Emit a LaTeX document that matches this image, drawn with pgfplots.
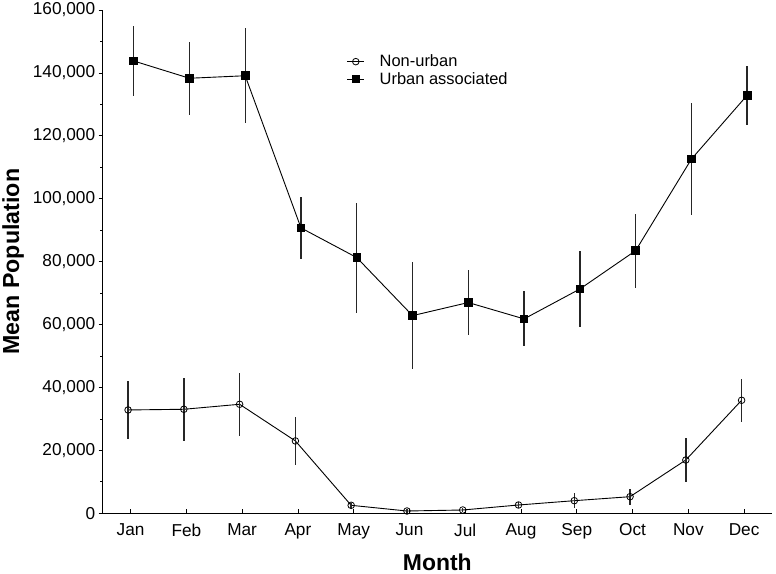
\documentclass[border=0pt]{standalone}
\usepackage{fontspec}
\setmainfont{Liberation Sans}
\usepackage{pgfplots}
\usepackage{pgfplotstable}
\pgfplotsset{compat=1.18}
\pgfplotstableread{
x y e
0.955 32850 9100
1.955 33070 10000
2.955 34660 10000
3.955 23000 7500
4.955 2540 800
5.955 730 500
6.955 1050 600
7.955 2640 1000
8.955 4010 2400
9.955 5280 2550
10.955 16950 6900
11.955 35930 6800
}\nonurban
\pgfplotstableread{
x y e
1.055 143800 11000
2.055 138300 11600
3.055 139100 15100
4.055 90730 9800
5.055 81300 17500
6.055 62840 17000
7.055 67000 10200
8.055 61800 8750
9.055 71300 12000
10.055 83500 11750
11.055 112600 17750
12.055 132900 9450
}\urban
\begin{document}
\begin{tikzpicture}
\begin{axis}[
  scale only axis, width=669.3bp, height=503.3bp,
  at={(0,0)}, anchor=south west,
  xmin=0.5, xmax=12.5, ymin=0, ymax=160000,
  axis x line=bottom, axis y line=left,
  axis line style={-, line width=0.9bp, black},
  xtick={1,...,12},
  xticklabels={Jan,Feb,Mar,Apr,May,Jun,Jul,Aug,Sep,Oct,Nov,Dec},
  ytick={0,20000,...,160000}, minor y tick num=1,
  scaled y ticks=false,
  yticklabel={\pgfmathprintnumber[fixed,precision=0,1000 sep={,},assume math mode=true]{\tick}},
  tick label style={font=\fontsize{17.3}{20}\selectfont},
  xticklabel style={yshift=-7bp},
  xtick align=inside, ytick align=outside,
  major tick length=4bp, minor tick length=2.5bp,
  tick style={black, line width=0.8bp},
  xlabel={\textbf{Month}}, ylabel={\textbf{Mean Population}},
  every axis x label/.append style={at={(axis description cs:0.5,-0.0968)}, anchor=center, font=\fontsize{23}{27}\selectfont},
  every axis y label/.append style={at={(axis description cs:-0.134,0.5)}, anchor=center, font=\fontsize{23.3}{27}\selectfont},
  legend cell align=left,
  legend style={draw=none, fill=none, at={(axis description cs:0.36,0.919)}, anchor=north west,
    font=\fontsize{16.5}{19}\selectfont, row sep=0pt,
    /tikz/every odd column/.append style={column sep=13bp}},
]
\addplot[black, line width=0.9bp, mark=o, mark size=3.3bp,
  mark options={solid, fill=none, line width=0.8bp},
  error bars/.cd, y dir=both, y explicit, error mark=none,
  error bar style={line width=1.4bp, color=black!85}]
  table[x=x, y=y, y error=e] {\nonurban};
\addlegendentry{Non-urban}
\addplot[black, line width=0.9bp, mark=square*, mark size=3.8bp,
  mark options={solid, fill=black},
  error bars/.cd, y dir=both, y explicit, error mark=none,
  error bar style={line width=1.4bp, color=black!85}]
  table[x=x, y=y, y error=e] {\urban};
\addlegendentry{Urban associated}
\end{axis}
\pgfresetboundingbox
\path[use as bounding box] (-102.7bp,-60.7bp) rectangle (673.3bp,513.3bp);
\end{tikzpicture}
\end{document}
